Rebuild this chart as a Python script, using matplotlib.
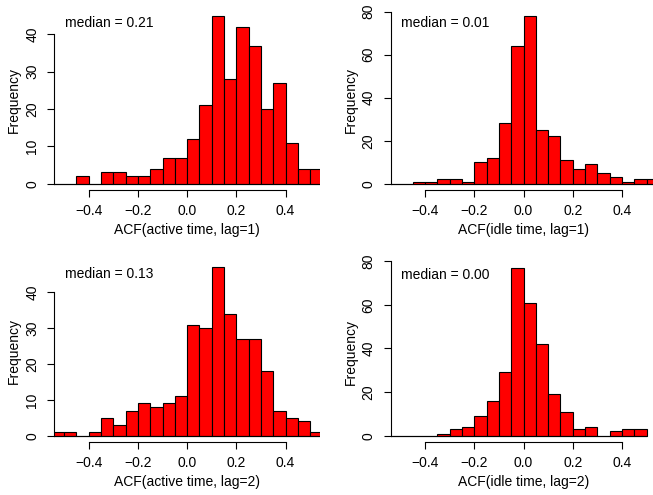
import numpy as np
import matplotlib
matplotlib.use("Agg")
import matplotlib.pyplot as plt  # noqa: E402

plt.rcParams["font.family"] = ["Liberation Sans", "DejaVu Sans"]
plt.rcParams["font.size"] = 10

# Histogram counts per 0.05-wide bin, first bin starts at -0.55.
BIN_START = -0.55
BIN_WIDTH = 0.05

active_lag1 = [0, 0, 2, 0, 3, 3, 2, 2, 4, 7, 7, 12, 21, 45, 28, 42, 37, 20, 27, 11, 4, 4]
idle_lag1 = [0, 0, 1, 1, 2, 2, 1, 10, 12, 28, 64, 78, 25, 22, 11, 7, 9, 5, 3, 1, 2, 2]
active_lag2 = [1, 1, 0, 1, 5, 3, 7, 9, 8, 9, 11, 31, 30, 47, 34, 27, 27, 18, 7, 5, 4, 1]
idle_lag2 = [0, 0, 0, 0, 1, 3, 4, 9, 16, 29, 77, 61, 42, 19, 11, 3, 4, 0, 2, 3, 3]

medians = ["0.21", "0.01", "0.13", "0.00"]
xlabels = ["ACF(active time, lag=1)", "ACF(idle time, lag=1)",
           "ACF(active time, lag=2)", "ACF(idle time, lag=2)"]
yticks = [[0, 10, 20, 30, 40], [0, 20, 40, 60, 80],
          [0, 10, 20, 30, 40], [0, 20, 40, 60, 80]]
xticks = [-0.4, -0.2, 0.0, 0.2, 0.4]

W, H = 653, 495
# plot regions in pixels: left, top, right, bottom
regions = [(54.3, 9.0, 320.0, 190.4), (390.7, 9.3, 656.4, 190.4),
           (54.3, 260.5, 320.0, 442.4), (390.7, 261.1, 656.4, 442.4)]

fig = plt.figure(figsize=(W / 100, H / 100), dpi=100)

for counts, med, xl, yt, (l, t, r, b) in zip(
        [active_lag1, idle_lag1, active_lag2, idle_lag2],
        medians, xlabels, yticks, regions):
    ax = fig.add_axes([l / W, 1 - b / H, (r - l) / W, (b - t) / H])
    edges = BIN_START + BIN_WIDTH * np.arange(len(counts) + 1)
    ax.bar(edges[:-1], counts, width=BIN_WIDTH, align="edge", color="#ff0000",
           edgecolor="black", linewidth=0.8)
    # R draws empty bins as flat rectangles, i.e. a line along the baseline
    ax.plot([edges[0], edges[-1]], [0, 0], color="black", linewidth=0.8,
            solid_capstyle="butt")
    top = max(counts)
    ax.set_xlim(-0.54, 0.54)
    ax.set_ylim(-0.04 * top, 1.04 * top)

    for s in ("top", "right"):
        ax.spines[s].set_visible(False)
    ax.spines["left"].set_bounds(yt[0], yt[-1])
    ax.spines["bottom"].set_bounds(xticks[0], xticks[-1])
    ax.set_xticks(xticks)
    ax.set_xticklabels([f"{v:.1f}".replace("-", "\u2212") for v in xticks])
    ax.set_yticks(yt)
    ax.tick_params(length=6.7 * 0.72, width=0.8, direction="out")
    ax.tick_params(axis="x", pad=5)
    ax.tick_params(axis="y", pad=6, labelrotation=90)
    for lab in ax.get_yticklabels():
        lab.set_va("center")

    ax.set_xlabel(xl, va="center")
    ax.set_ylabel("Frequency", va="center")
    ax.xaxis.set_label_coords(0.5, -39.6 / (b - t))
    ax.yaxis.set_label_coords(-40.0 / 265.7, 0.5)
    ax.text(0.04, 0.925, f"median = {med}", transform=ax.transAxes,
            ha="left", va="center")

fig.savefig("out.png", dpi=100)
